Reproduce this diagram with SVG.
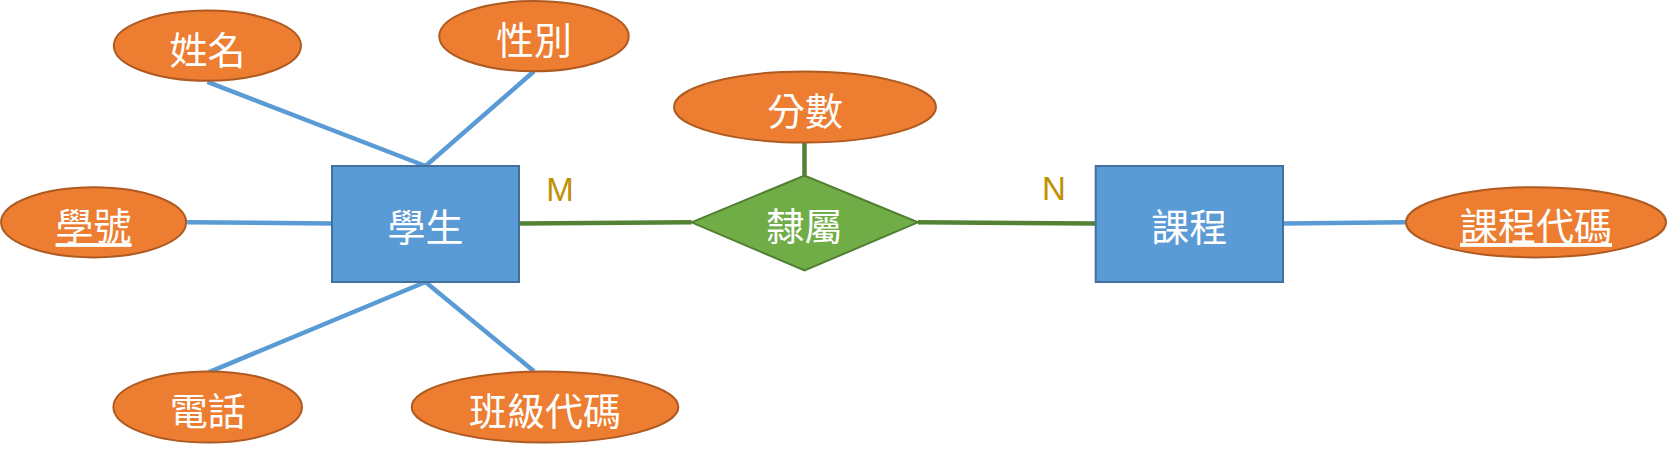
<svg xmlns="http://www.w3.org/2000/svg" width="1668" height="453" viewBox="0 0 1668 453">
<style>
.attr{fill:#ED7D31;stroke:#AE5A21;stroke-width:2}
.ent{fill:#5B9BD5;stroke:#41719C;stroke-width:2}
.rel{fill:#70AD47;stroke:#507E32;stroke-width:2}
.t{font-family:"Noto Sans CJK TC","Noto Sans CJK SC",sans-serif;font-size:38px;fill:#FFFFFF;text-anchor:middle;dominant-baseline:central}
.u{text-decoration:underline}
.b{stroke:#5B9BD5;stroke-width:4.5;fill:none}
.g{stroke:#548235;stroke-width:4.5;fill:none}
.c{font-family:"Liberation Sans",Arial,sans-serif;font-size:33px;fill:#BF9000;text-anchor:middle}
</style>
<rect width="1668" height="453" fill="#FFFFFF"/>
<g id="connectors">
<line class="b" x1="207.4" y1="81.9" x2="425.5" y2="166"/>
<line class="b" x1="534" y1="71.3" x2="425.5" y2="166"/>
<line class="b" x1="187.2" y1="222.3" x2="332" y2="223.4"/>
<line class="b" x1="208.5" y1="372.3" x2="425.5" y2="282"/>
<line class="b" x1="534" y1="371.3" x2="425.5" y2="282"/>
<line class="b" x1="1283" y1="223.4" x2="1406" y2="222.3"/>
<line class="g" x1="519" y1="223.4" x2="691.5" y2="222.3"/>
<line class="g" x1="918" y1="222.3" x2="1095.7" y2="223.4"/>
<line class="g" x1="804.5" y1="142" x2="804.5" y2="175.5"/>
<text class="c" x="560" y="201">M</text>
<text class="c" x="1054" y="200">N</text>
</g>
<g id="name"><ellipse class="attr" cx="207.4" cy="45.7" rx="93.6" ry="35.1"/><text class="t" x="207.4" y="47">姓名</text></g>
<g id="gender"><ellipse class="attr" cx="534" cy="36.2" rx="94.7" ry="35.1"/><text class="t" x="534" y="37.5">性別</text></g>
<g id="score"><ellipse class="attr" cx="805" cy="107" rx="131" ry="35.5"/><text class="t" x="805" y="108.3">分數</text></g>
<g id="studentId"><ellipse class="attr" cx="93.6" cy="222.3" rx="92.5" ry="35.1"/><text class="t u" x="93.6" y="223.6">學號</text></g>
<g id="courseId"><ellipse class="attr" cx="1536" cy="222.3" rx="130" ry="35.1"/><text class="t u" x="1536" y="223.6">課程代碼</text></g>
<g id="phone"><ellipse class="attr" cx="207.7" cy="407" rx="94.3" ry="35.6"/><text class="t" x="207.7" y="408.3">電話</text></g>
<g id="classId"><ellipse class="attr" cx="545" cy="407" rx="133.3" ry="35.5"/><text class="t" x="545" y="408.3">班級代碼</text></g>
<g id="student"><rect class="ent" x="332" y="166" width="187" height="116"/><text class="t" x="425.5" y="224.5">學生</text></g>
<g id="course"><rect class="ent" x="1095.7" y="166" width="187.3" height="116"/><text class="t" x="1189.3" y="224.5">課程</text></g>
<g id="belongs"><polygon class="rel" points="691.5,222.3 804.5,175.5 918,222.3 804.5,270.5"/><text class="t" x="804.5" y="223.6">隸屬</text></g>
</svg>
